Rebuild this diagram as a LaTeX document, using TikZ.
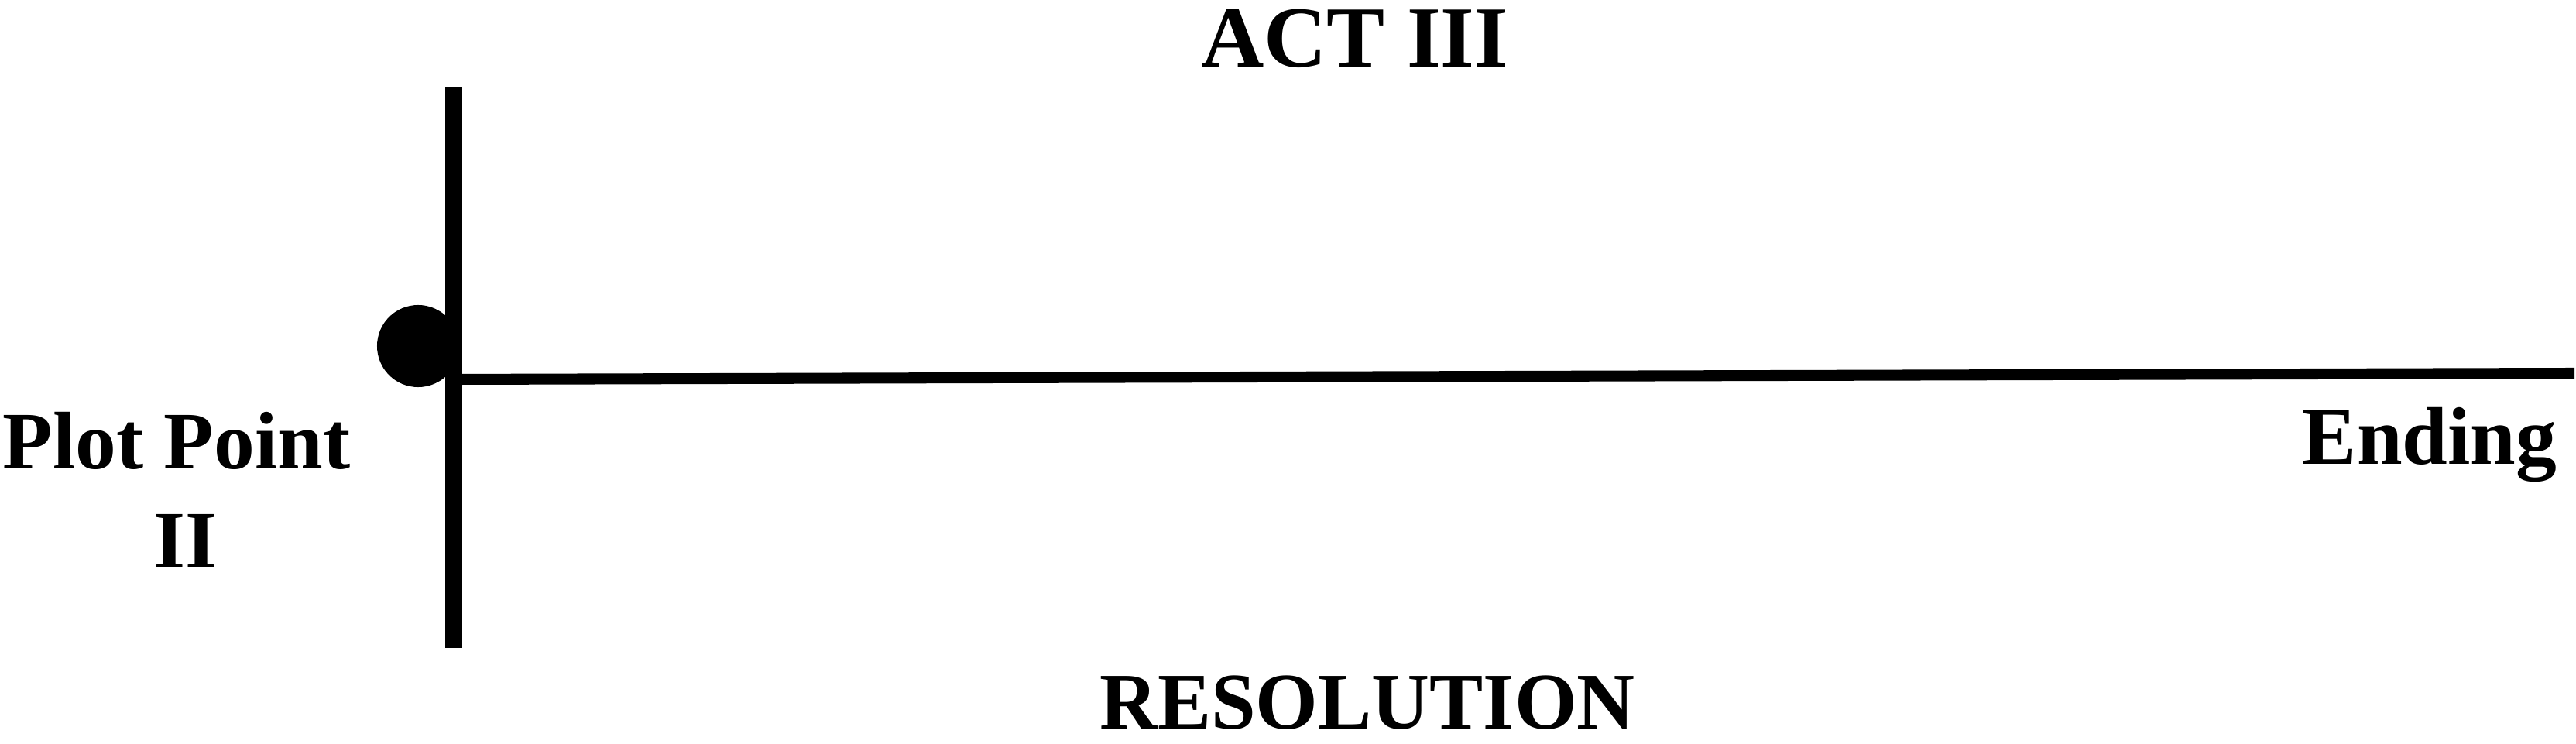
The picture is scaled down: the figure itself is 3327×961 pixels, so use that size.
\documentclass[tikz,border=0pt]{standalone}
\usepackage{fontspec}
\setmainfont{Liberation Serif}
\begin{document}
\begin{tikzpicture}[x=0.01cm,y=-0.01cm,
  lbl/.style={inner sep=0pt,anchor=base,font=\bfseries\fontsize{30}{36}\selectfont},
  vline/.style={line width=6.2pt,line cap=rect},
  hline/.style={line width=4pt},
  plotdot/.style={circle,fill=black,inner sep=0pt,minimum size=1.06cm}]
\useasboundingbox (0,0) rectangle (3327,961);
\coordinate (vtop) at (586,124);
\coordinate (vbot) at (586,826);
\coordinate (hleft) at (586,490);
\coordinate (hright) at (3325,482);
\draw[vline] (vtop) -- (vbot);
\draw[hline] (hleft) -- (hright);
\node[plotdot] (dot) at (540,447) {};
\node[lbl,font=\bfseries\fontsize{32}{38}\selectfont] (act) at (1750,87) {ACT III};
\node[lbl,font=\bfseries\fontsize{29.5}{36}\selectfont] (res) at (1766,941) {RESOLUTION};
\node[lbl] (pp) at (228,605) {Plot Point};
\node[lbl] (ii) at (240,733) {II};
\node[lbl] (end) at (3138,600) {Ending};
\end{tikzpicture}
\end{document}
